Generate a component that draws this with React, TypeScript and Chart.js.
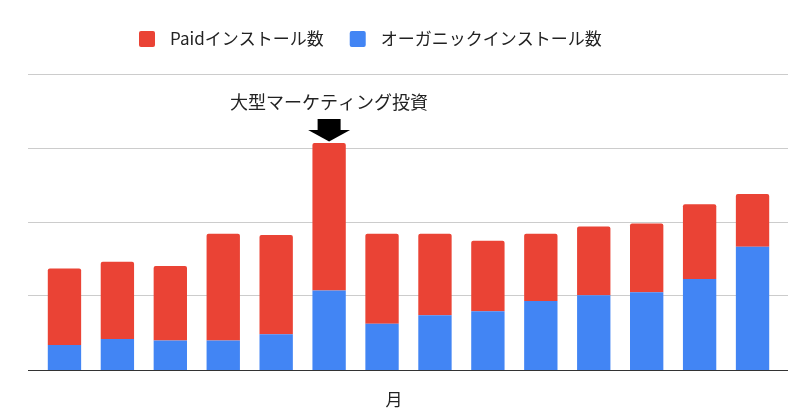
import React, { useEffect, useRef } from "react";
import { Chart, registerables } from "chart.js";

Chart.register(...registerables);

const months = ["1", "2", "3", "4", "5", "6", "7", "8", "9", "10", "11", "12", "13", "14"];
const organicInstalls = [339, 419, 401, 401, 486, 1077, 626, 743, 797, 937, 1014, 1054, 1234, 1671];
const paidInstalls = [1036, 1050, 1009, 1446, 1343, 2000, 1221, 1104, 955, 910, 932, 932, 1014, 716];
const yTicks = [0, 1000, 2000, 3000, 4000];
const paidLabel = "Paidインストール数";
const organicLabel = "オーガニックインストール数";
const axisTitle = "月";
const annotationText = "大型マーケティング投資";
const annotationIndex = 5;

const RED = "#EA4335";
const BLUE = "#4285F4";
const FONT = '"Noto Sans CJK JP", "Noto Sans", sans-serif';

const customPlugin = {
  id: "custom",
  beforeDatasetsDraw(chart: any) {
    const { ctx, scales } = chart;
    const y = scales.y;
    ctx.save();
    ctx.strokeStyle = "#cccccc";
    ctx.lineWidth = 1;
    yTicks.forEach((v) => {
      if (v === 0) return;
      const py = Math.round(y.getPixelForValue(v)) - 0.5;
      ctx.beginPath();
      ctx.moveTo(28, py);
      ctx.lineTo(788, py);
      ctx.stroke();
    });
    ctx.restore();
  },
  afterDraw(chart: any) {
    const { ctx, scales } = chart;
    const x = scales.x;
    const y = scales.y;
    ctx.save();
    // baseline
    const by = Math.round(y.getPixelForValue(0)) + 0.5;
    ctx.strokeStyle = "#333333";
    ctx.lineWidth = 1;
    ctx.beginPath();
    ctx.moveTo(28, by);
    ctx.lineTo(788, by);
    ctx.stroke();

    // legend (paid first, as in the reference)
    ctx.font = `17px ${FONT}`;
    ctx.textBaseline = "middle";
    ctx.textAlign = "left";
    let lx = 139;
    const ly = 31;
    const items = [...chart.data.datasets].reverse();
    items.forEach((ds: any) => {
      ctx.fillStyle = ds.backgroundColor;
      ctx.beginPath();
      if (ctx.roundRect) ctx.roundRect(lx, ly, 16, 16, 2);
      else ctx.rect(lx, ly, 16, 16);
      ctx.fill();
      ctx.fillStyle = "#222222";
      const tx = lx + 31;
      ctx.fillText(ds.label, tx, ly + 8);
      lx = tx + ctx.measureText(ds.label).width + 26;
    });

    // axis title
    ctx.textAlign = "center";
    ctx.fillStyle = "#222222";
    ctx.fillText(axisTitle, 394, 400);

    // annotation
    const cx = x.getPixelForValue(annotationIndex);
    ctx.font = `18px ${FONT}`;
    ctx.fillText(annotationText, cx, 102);
    ctx.fillStyle = "#000000";
    ctx.fillRect(cx - 11.5, 119, 23, 11);
    ctx.beginPath();
    ctx.moveTo(cx - 21, 130);
    ctx.lineTo(cx + 21, 130);
    ctx.lineTo(cx, 141.5);
    ctx.closePath();
    ctx.fill();
    ctx.restore();
  },
};

export default function App() {
  const canvasRef = useRef<HTMLCanvasElement | null>(null);

  useEffect(() => {
    document.body.style.margin = "0";
    const canvas = canvasRef.current;
    if (!canvas) return;
    const chart = new Chart(canvas, {
      type: "bar",
      data: {
        labels: months,
        datasets: [
          {
            label: organicLabel,
            data: organicInstalls,
            backgroundColor: BLUE,
            barPercentage: 0.63,
            categoryPercentage: 1,
            stack: "s",
          },
          {
            label: paidLabel,
            data: paidInstalls,
            backgroundColor: RED,
            borderRadius: 2,
            barPercentage: 0.63,
            categoryPercentage: 1,
            stack: "s",
          },
        ],
      },
      options: {
        animation: false,
        responsive: false,
        maintainAspectRatio: false,
        layout: { padding: { top: 75, bottom: 43, left: 38, right: 21 } },
        plugins: {
          legend: { display: false },
          tooltip: { enabled: false },
        },
        scales: {
          x: { display: false, stacked: true },
          y: {
            display: false,
            stacked: true,
            min: 0,
            max: 4000,
            ticks: { stepSize: 1000 },
          },
        },
      },
      plugins: [customPlugin],
    });
    return () => chart.destroy();
  }, []);

  return (
    <div style={{ width: 800, height: 413, background: "#fff" }}>
      <canvas ref={canvasRef} width={800} height={413} style={{ display: "block" }} />
    </div>
  );
}
